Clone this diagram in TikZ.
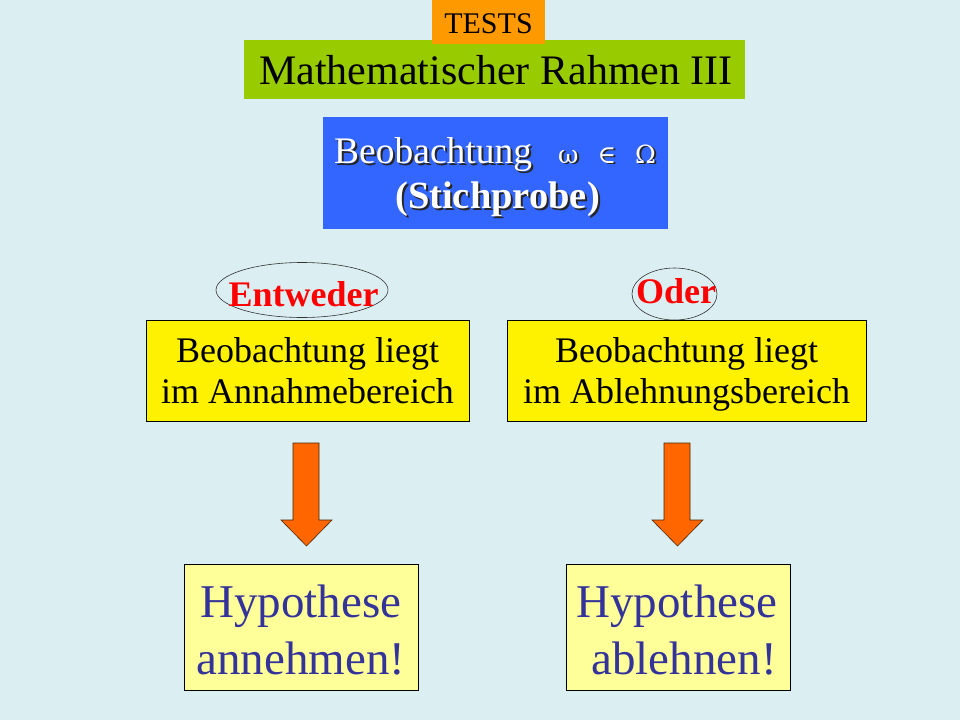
\documentclass[tikz,border=0pt]{standalone}
\usepackage{fontspec}
\setmainfont{Liberation Serif}
\newfontfamily\symfont{DejaVu Serif}
\usetikzlibrary{shapes.geometric}
\definecolor{bg}{RGB}{219,238,242}
\definecolor{testsorange}{RGB}{255,153,0}
\definecolor{titlegreen}{RGB}{153,204,0}
\definecolor{obsblue}{RGB}{51,102,255}
\definecolor{hypyellow}{RGB}{255,255,153}
\definecolor{hyptext}{RGB}{51,51,153}
\definecolor{arroworange}{RGB}{255,102,0}
\tikzset{
  plainbox/.style={rectangle, inner sep=0pt, draw=none},
  framebox/.style={rectangle, inner sep=0pt, draw=black, line width=0.8pt},
  txt/.style={inner sep=0pt, anchor=base},
  oval/.style={ellipse, draw=black!80, line width=0.6pt, inner sep=0pt},
  blockarrow/.style={fill=arroworange, draw=black!70!orange, line width=0.6pt, line join=miter},
}
\begin{document}
\begin{tikzpicture}[x=1pt,y=-1pt]
\fill[bg] (0,0) rectangle (960,720);
\useasboundingbox (0,0) rectangle (960,720);

% title boxes
\node[plainbox, fill=titlegreen, minimum width=501pt, minimum height=59pt] (title) at (494.5,69.5) {};
\node[plainbox, fill=testsorange, minimum width=113pt, minimum height=44pt] (tests) at (488.5,22) {};
\node[txt, font=\fontsize{30}{30}\selectfont] (teststxt) at (488.5,33) {TESTS};
\node[txt, font=\fontsize{42}{42}\selectfont] (titletxt) at (496,84) {Mathematischer Rahmen III};

% observation box
\node[plainbox, fill=obsblue, minimum width=345pt, minimum height=112pt] (obs) at (495.5,173) {};
\node[txt, anchor=base west, text=black!85, font=\fontsize{37.5}{37.5}\selectfont] (obs1s) at (336,165) {Beobachtung};
\node[txt, anchor=base west, text=white, font=\fontsize{37.5}{37.5}\selectfont] (obs1) at (334,163) {Beobachtung};
\node[txt, anchor=base west, text=black!85, font=\symfont\fontsize{25}{25}\selectfont] (sym1s) at (560,164.5) {ω\hspace{19pt}∈\hspace{19pt}Ω};
\node[txt, anchor=base west, text=white, font=\symfont\fontsize{25}{25}\selectfont] (sym1) at (558,163) {ω\hspace{19pt}∈\hspace{19pt}Ω};
\node[txt, text=black!85, font=\bfseries\fontsize{38.5}{38.5}\selectfont] (obs2s) at (499.5,210) {(Stichprobe)};
\node[txt, text=white, font=\bfseries\fontsize{38.5}{38.5}\selectfont] (obs2) at (497.5,208) {(Stichprobe)};

% Entweder / Oder
\node[oval, minimum width=172pt, minimum height=55pt] (entw) at (302,290) {};
\node[txt, text=red, font=\bfseries\fontsize{36}{36}\selectfont] (entwtxt) at (303.5,306) {Entweder};
\node[oval, minimum width=85pt, minimum height=52pt] (oder) at (674.5,294) {};
\node[txt, text=red, font=\bfseries\fontsize{36}{36}\selectfont] (odertxt) at (676,303) {Oder};

% yellow boxes
\node[framebox, fill=yellow, minimum width=323pt, minimum height=101pt] (lbox) at (307.5,370.5) {};
\node[txt, font=\fontsize{36}{36}\selectfont] (lbox1) at (307.5,362) {Beobachtung liegt};
\node[txt, font=\fontsize{36}{36}\selectfont] (lbox2) at (307.5,403) {im Annahmebereich};
\node[framebox, fill=yellow, minimum width=359pt, minimum height=101pt] (rbox) at (686.5,370.5) {};
\node[txt, font=\fontsize{36}{36}\selectfont] (rbox1) at (686.5,362) {Beobachtung liegt};
\node[txt, font=\fontsize{36}{36}\selectfont] (rbox2) at (686.5,403) {im Ablehnungsbereich};

% hypothesis boxes
\node[framebox, fill=hypyellow, minimum width=234pt, minimum height=126pt] (lhyp) at (301,627) {};
\node[txt, text=hyptext, font=\fontsize{47}{47}\selectfont] (lhyp1) at (301,617) {Hypothese};
\node[txt, text=hyptext, font=\fontsize{47}{47}\selectfont] (lhyp2) at (301,674) {annehmen!};
\node[framebox, fill=hypyellow, minimum width=224pt, minimum height=126pt] (rhyp) at (678,627) {};
\node[txt, text=hyptext, font=\fontsize{47}{47}\selectfont] (rhyp1) at (677,617) {Hypothese};
\node[txt, text=hyptext, font=\fontsize{47}{47}\selectfont] (rhyp2) at (684,674) {ablehnen!};

% block arrows
\draw[blockarrow] (293,443) -- (319,443) -- (319,520) -- (332,520) -- (306.5,546) -- (281,520) -- (293,520) -- cycle;
\draw[blockarrow] (664,443) -- (690,443) -- (690,520) -- (703,520) -- (677.5,546) -- (652,520) -- (664,520) -- cycle;
\end{tikzpicture}
\end{document}
